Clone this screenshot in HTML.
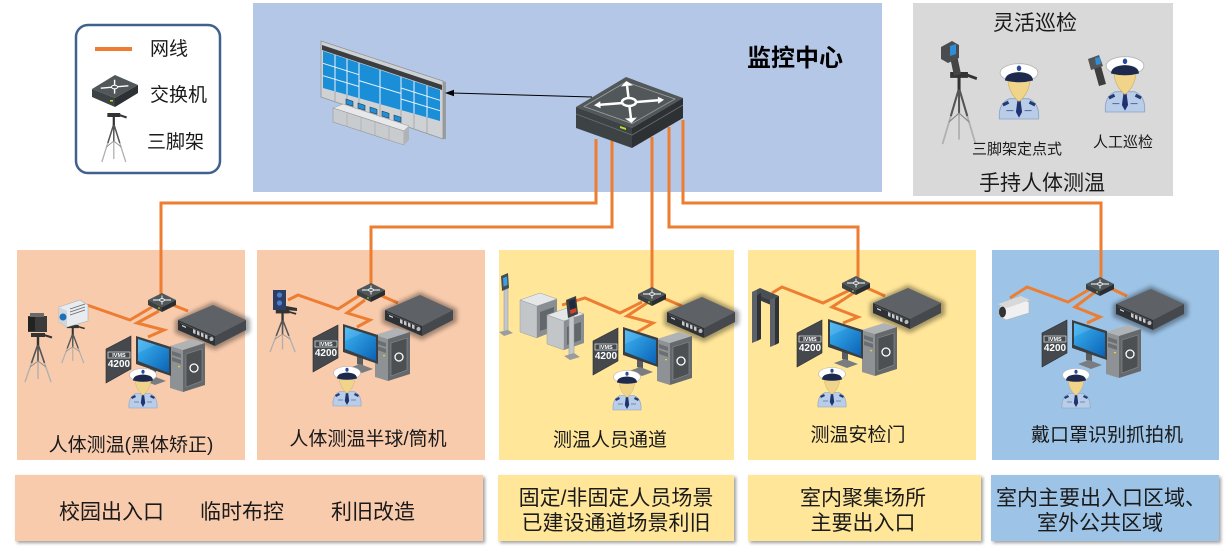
<!DOCTYPE html>
<html><head><meta charset="utf-8">
<style>
html,body{margin:0;padding:0;background:#fff;}
svg{display:block;}
text{font-family:"Liberation Sans","Noto Sans CJK SC",sans-serif;fill:#1a1a1a;}
</style></head><body>
<svg width="1228" height="550" viewBox="0 0 1228 550" xmlns="http://www.w3.org/2000/svg" xmlns:xlink="http://www.w3.org/1999/xlink">
<defs>
<linearGradient id="scr" x1="0" y1="0" x2="1" y2="1">
<stop offset="0" stop-color="#3db6f5"/><stop offset="1" stop-color="#0a62b5"/>
</linearGradient>
<filter id="blur2" x="-30%" y="-30%" width="160%" height="160%"><feGaussianBlur stdDeviation="2"/></filter>
<filter id="ds" x="-5%" y="-10%" width="110%" height="130%"><feDropShadow dx="2" dy="2" stdDeviation="1.5" flood-color="#777" flood-opacity="0.7"/></filter>

<g id="sw">
<path d="M-14,0 L0,-7 L14,0 L0,7 Z" fill="#50575a"/>
<path d="M-14,0 L0,7 L0,12 L-14,5 Z" fill="#3b4043"/>
<path d="M0,7 L14,0 L14,5 L0,12 Z" fill="#2a2e30"/>
<path d="M-9,0 L9,0 M0,-4.5 L0,4.5" stroke="#fff" stroke-width="0.9"/>
<ellipse cx="0" cy="0" rx="2.4" ry="1.3" fill="#50575a" stroke="#fff" stroke-width="0.8"/>
<rect x="-4" y="7.5" width="2" height="1" fill="#b5e61d"/>
</g>

<g id="nvr">
<polygon points="-3,15 35,-3 72,14 72,27 37,45 -3,28" fill="#000" opacity="0.35" filter="url(#blur2)"/>
<polygon points="0,15 35,0 68,15 37,31" fill="#5e6266"/>
<polygon points="0,15 37,31 37,41 0,25" fill="#2e3135"/>
<polygon points="37,31 68,15 68,25 37,41" fill="#45494d"/>
<path d="M2,17.5 L35,32" stroke="#66696d" stroke-width="0.6"/>
<polygon points="15,24 17.5,25.1 17.5,29.1 15,28" fill="#c9c9c9"/>
<polygon points="19,25.7 21.5,26.8 21.5,30.8 19,29.7" fill="#c9c9c9"/>
<polygon points="23,27.4 25.5,28.5 25.5,32.5 23,31.4" fill="#c9c9c9"/>
<polygon points="27,29.2 29.5,30.3 29.5,34.3 27,33.2" fill="#c9c9c9"/>
<circle cx="33.5" cy="34" r="2" fill="#bbb"/>
<polygon points="4,20 8,21.7 8,23 4,21.3" fill="#ddd"/>
</g>

<g id="pc">
<polygon points="0,7 22,0 35,4 13,11" fill="#b0b3b6"/>
<polygon points="0,7 13,11 13,53 0,49" fill="#8f9295"/>
<polygon points="2,12 11,15 11,19 2,16" fill="#6c6f72"/>
<polygon points="2,18 11,21 11,25 2,22" fill="#6c6f72"/>
<rect x="8" y="27" width="2" height="1.2" fill="#e8d23a"/>
<polygon points="13,11 35,4 35,46 13,53" fill="#66696c"/>
<polygon points="16,15 32,10 32,42 16,48" fill="#4d5053" stroke="#8a8d90" stroke-width="0.6"/>
<circle cx="24" cy="29" r="4" fill="none" stroke="#fff" stroke-width="1.3"/>
</g>

<g id="mon">
<polygon points="14,31 20,33 20,42 14,40" fill="#5a5d60"/>
<polygon points="6,44 17,40 30,45 19,49" fill="#7a7d80"/>
<polygon points="0,0 35,11 35,40 0,28" fill="#3c3f42"/>
<polygon points="2,3 33,13 33,37 2,25" fill="url(#scr)"/>
<polygon points="2,3 20,8.8 2,17" fill="#fff" opacity="0.12"/>
</g>

<g id="ivms">
<polygon points="0,13 25,0 25,33 0,47" fill="#45494d" stroke="#2a2c2e" stroke-width="0.6"/>
<rect x="2" y="16" width="22" height="6" fill="none" stroke="#fff" stroke-width="0.6"/>
<text x="13" y="21" font-size="5.5" font-weight="bold" text-anchor="middle" style="fill:#fff">IVMS</text>
<text x="13" y="31" font-size="10" font-weight="bold" text-anchor="middle" style="fill:#fff">4200</text>
</g>

<g id="pol">
<path d="M1,40 Q0,29 8,25.5 L22,25.5 Q30,29 29,40 Z" fill="#b9cce8" stroke="#8aa2c6" stroke-width="0.6"/>
<path d="M3,29 L7,27 L8,29 L4,31Z M27,29 L23,27 L22,29 L26,31Z" fill="#233b73"/>
<path d="M6,34 L11,34 M19,34 L24,34" stroke="#5a74a2" stroke-width="0.8"/>
<path d="M14,26 L16,26 L17.2,35 L15,39 L12.8,35 Z" fill="#1f3370"/>
<path d="M7,12 Q8,22 15,27.5 Q22,22 23,12 Z" fill="#f0d48a" stroke="#c9ac60" stroke-width="0.4"/>
<ellipse cx="15" cy="7" rx="13.5" ry="6.5" fill="#fff" stroke="#b5b5b5" stroke-width="0.6"/>
<path d="M5,12.5 Q5,7 15,6.5 Q25,7 25,12.5 Q15,15 5,12.5 Z" fill="#1e2a4d"/>
<ellipse cx="15" cy="3.8" rx="1.6" ry="2" fill="#2a4a9a"/>
</g>

<g id="tri" fill="none">
<path d="M15,11 L2,49 M15,11 L15,46 M15,11 L28,49" stroke="#b0b0b0" stroke-width="1.4"/>
<path d="M15,11 L8.5,30 M15,11 L15,28 M15,11 L21.5,30" stroke="#555" stroke-width="1.6"/>
<path d="M7,34 L15,28 L23,34" stroke="#888" stroke-width="0.8"/>
<path d="M15,2 L15,12" stroke="#333" stroke-width="2.4"/>
<rect x="8" y="0" width="14" height="4" fill="#333"/>
<path d="M21,2 L29,4.5" stroke="#333" stroke-width="2"/>
</g>
</defs>

<!-- backgrounds -->
<rect x="253" y="3" width="629" height="189" fill="#b4c7e7"/>
<rect x="913" y="3" width="260" height="193" fill="#d9d9d9"/>
<rect x="17" y="250" width="228" height="210" fill="#f8cbad"/>
<rect x="257" y="250" width="228" height="210" fill="#f8cbad"/>
<rect x="499" y="250" width="235" height="210" fill="#ffe699"/>
<rect x="748" y="250" width="228" height="210" fill="#ffe699"/>
<rect x="992" y="250" width="227" height="210" fill="#9dc3e6"/>

<!-- legend -->
<rect x="76" y="25" width="144" height="148" rx="12" fill="#fff" stroke="#41608e" stroke-width="2.5"/>
<rect x="95" y="47" width="37" height="4" fill="#ed7d31"/>
<text x="150" y="55" font-size="19">网线</text>
<polygon points="92,89 115,75 138,85 115,98" fill="#52585a"/>
<polygon points="92,89 115,98 115,107 92,97" fill="#3d4244"/>
<polygon points="115,98 138,85 138,93 115,107" fill="#2d3133"/>
<path d="M100.8,88.2 L128.4,85.8 M114.6,79.8 L114.6,93.6" stroke="#fff" stroke-width="1.4"/>
<ellipse cx="114.5" cy="87" rx="3" ry="1.8" fill="#52585a" stroke="#fff" stroke-width="1"/>
<rect x="110" y="100" width="3" height="1.5" fill="#b5e61d"/>
<text x="150" y="101" font-size="19">交换机</text>
<use href="#tri" transform="translate(100,113) scale(0.92,1)"/>
<text x="147" y="148" font-size="19">三脚架</text>

<!-- main orange lines -->
<g fill="none" stroke="#ed7d31" stroke-width="3">
<polyline points="596,139 596,203 161,203 161,296"/>
<polyline points="612,137 612,227 371,227 371,289"/>
<polyline points="652,137 652,293"/>
<polyline points="669,127 669,227 858,227 858,282"/>
<polyline points="683,120 683,203 1101,203 1101,283"/>
</g>

<!-- big switch -->
<polygon points="576,107 626,77 683,98 632,128" fill="#52585a"/>
<polygon points="576,107 632,128 632,148 576,128" fill="#3d4244"/>
<polygon points="632,128 683,98 683,118 632,148" fill="#2d3133"/>
<path d="M576,114 L632,135 L683,105" stroke="#6b7072" stroke-width="0.8" fill="none"/>
<polygon points="620,126 626,128 626,130 620,128" fill="#b5e61d"/>
<polygon points="584,106.5 626,82 675,99 632,123.5" fill="none" stroke="#9aa0a2" stroke-width="0.8"/>
<path d="M600,104.8 L658,100.3 M627.1,86 L630.9,118" stroke="#fff" stroke-width="2.5"/>
<ellipse cx="629" cy="102" rx="7" ry="4" fill="#52585a" stroke="#fff" stroke-width="2.5"/>
<polygon points="594,105.3 600.2,101.3 600.6,108.3" fill="#fff"/>
<polygon points="664,99.7 657.8,96.8 658.2,103.8" fill="#fff"/>
<polygon points="626.5,81 621,86.5 633,85.4" fill="#fff"/>
<polygon points="631.5,123 624.9,118.5 636.9,117.5" fill="#fff"/>

<!-- video wall -->
<polygon points="443,81 446,82 446,139 443,139" fill="#9a9da0"/>
<polygon points="321,41 443,81 443,139 321,97" fill="#cfd2d5" stroke="#8f9396" stroke-width="0.8"/>
<polygon points="322,45 442,85 442,90 322,50" fill="#3b3d40"/>
<polygon points="323,51 440,90 440,121 323,88" fill="#1b8ed8"/>
<g stroke="#e8f2fa" stroke-width="1">
<line x1="335" y1="55" x2="335" y2="91.4"/>
<line x1="347" y1="59" x2="347" y2="94.8"/>
<line x1="359" y1="63" x2="359" y2="98.2"/>
<line x1="380" y1="70" x2="380" y2="104.1"/>
<line x1="401" y1="77" x2="401" y2="110"/>
<line x1="414" y1="81.3" x2="414" y2="113.7"/>
<line x1="427" y1="85.7" x2="427" y2="117.3"/>
<line x1="323" y1="63.3" x2="359" y2="74.7"/>
<line x1="323" y1="75.7" x2="359" y2="86.5"/>
<line x1="359" y1="80.6" x2="401" y2="93.5"/>
<line x1="401" y1="88" x2="440" y2="100.3"/>
<line x1="401" y1="99" x2="440" y2="110.7"/>
</g>
<g stroke="#a0a3a6" stroke-width="0.8">
<line x1="335" y1="91.4" x2="335" y2="101.8"/>
<line x1="347" y1="94.8" x2="347" y2="105.9"/>
<line x1="359" y1="98.2" x2="359" y2="110.1"/>
<line x1="380" y1="104.1" x2="380" y2="117.3"/>
<line x1="401" y1="110" x2="401" y2="124.5"/>
<line x1="414" y1="113.7" x2="414" y2="129"/>
<line x1="427" y1="117.3" x2="427" y2="133.5"/>
</g>
<polygon points="333,108 343,104 409,126 404,131" fill="#e6e8ea" stroke="#a0a3a6" stroke-width="0.6"/>
<polygon points="333,108 404,131 404,145 333,122" fill="#c9ccce" stroke="#999" stroke-width="0.6"/>
<polygon points="404,131 409,126 409,140 404,145" fill="#b0b3b6"/>
<g stroke="#a3a6a9" stroke-width="0.6">
<line x1="347" y1="112.5" x2="347" y2="126.5"/><line x1="361" y1="117" x2="361" y2="131"/>
<line x1="375" y1="121.6" x2="375" y2="135.6"/><line x1="389" y1="126" x2="389" y2="140"/>
</g>
<g fill="#1e8fd8" stroke="#2a3a4a" stroke-width="0.6">
<polygon points="346,99 353,101.3 353,106.3 346,104"/>
<polygon points="358,103 365,105.3 365,110.3 358,108"/>
<polygon points="370,107 377,109.3 377,114.3 370,112"/>
<polygon points="382,111 389,113.3 389,118.3 382,116"/>
<polygon points="394,115 401,117.3 401,122.3 394,120"/>
</g>
<line x1="592" y1="97" x2="452" y2="93" stroke="#000" stroke-width="1"/>
<polygon points="445,93 454,89.7 454,96.3" fill="#000"/>
<text x="747" y="66" font-size="24" font-weight="bold" style="fill:#000">监控中心</text>

<!-- right top panel -->
<text x="1035" y="30" font-size="21" text-anchor="middle">灵活巡检</text>
<use href="#tri" transform="translate(940,72) scale(1.27,1.47)"/>
<polygon points="950,57 957,55 961,74 954,76" fill="#444"/>
<polygon points="941,47 952,41 959,45 959,58 948,63 941,59" fill="#4a4d50"/>
<polygon points="950,46 956,44 956,54 950,56" fill="#2e8fd6"/>
<use href="#pol" transform="translate(998,63) scale(1.4)"/>
<use href="#pol" transform="translate(1104,56) scale(1.4)"/>
<polygon points="1094,68 1101,66 1106,84 1099,86" fill="#3d3d3d"/>
<polygon points="1088,59 1099,55 1103,66 1091,70" fill="#555"/>
<polygon points="1095,58 1100,57 1101,64 1096,65" fill="#2e8fd6"/>
<text x="1017" y="154" font-size="15" text-anchor="middle">三脚架定点式</text>
<text x="1123" y="147" font-size="15" text-anchor="middle">人工巡检</text>
<text x="1042" y="190" font-size="21" text-anchor="middle">手持人体测温</text>

<!-- panel internal lines -->
<g fill="none" stroke="#ed7d31" stroke-width="3" stroke-linejoin="miter">
<polyline points="87,305 130,320 152,307"/>
<polyline points="159,311 137,323 164,330 148,337"/>
<polyline points="173,305 188,311"/>
<polyline points="288,300 298,295 338,309 360,295"/>
<polyline points="365,300 347,313 370,320 357,327"/>
<polyline points="382,296 398,303"/>
<polyline points="562,305 585,298 620,313 642,302"/>
<polyline points="647,303 627,316 653,323 637,332"/>
<polyline points="663,298 682,306"/>
<polyline points="772,293 782,287 823,303 850,290"/>
<polyline points="855,292 832,307 858,317 843,323"/>
<polyline points="867,288 885,296"/>
<polyline points="1010,298 1027,287 1068,302 1090,289"/>
<polyline points="1095,292 1075,307 1100,317 1087,323"/>
<polyline points="1110,288 1127,296"/>
</g>

<!-- panel 1 devices -->
<use href="#tri" transform="translate(23,333)"/>
<rect x="28" y="316" width="19" height="16" fill="#3b3b3b"/>
<rect x="28" y="317" width="7" height="14" fill="#222"/>
<rect x="30" y="313" width="14" height="4" fill="#6a6a6a"/>
<use href="#tri" transform="translate(60,325) scale(0.85,0.78)"/>
<polygon points="59,307 80,300 88,305 88,321 67,327 59,322" fill="#e8ecef" stroke="#a9b0b6" stroke-width="0.6"/>
<polygon points="59,307 67,311 67,327 59,322" fill="#cfd6dc"/>
<circle cx="63" cy="317" r="3.5" fill="#1d6fb8"/>
<path d="M70,309 L85,304 M70,312 L85,307 M70,315 L85,310" stroke="#666" stroke-width="0.8"/>
<use href="#sw" transform="translate(162,300)"/>
<use href="#nvr" transform="translate(178,305)"/>
<use href="#pc" transform="translate(170,339)"/>
<use href="#mon" transform="translate(136,336)"/>
<use href="#ivms" transform="translate(106,336)"/>
<use href="#pol" transform="translate(128,368)"/>
<text x="131" y="451" font-size="19" text-anchor="middle">人体测温(黑体矫正)</text>

<!-- panel 2 -->
<use href="#tri" transform="translate(268,310) scale(0.97,0.86)"/>
<rect x="273" y="290" width="13" height="20" fill="#2c3e66"/>
<circle cx="279.5" cy="295" r="2.6" fill="#4b7fc8"/>
<circle cx="279.5" cy="303" r="2.6" fill="#4b7fc8"/>
<polygon points="286,306 297,308 297,311 286,310" fill="#333"/>
<use href="#sw" transform="translate(371,290)"/>
<use href="#nvr" transform="translate(385,295)"/>
<use href="#pc" transform="translate(375,328)"/>
<use href="#mon" transform="translate(343,324)"/>
<use href="#ivms" transform="translate(313,325)"/>
<use href="#pol" transform="translate(332,366)"/>
<text x="368" y="445" font-size="19" text-anchor="middle">人体测温半球/筒机</text>

<!-- panel 3 -->
<polygon points="504,285 508,284 508,332 504,333" fill="#c5c8cb" stroke="#8e9194" stroke-width="0.5"/>
<polygon points="499,332 508,330 513,333 504,336" fill="#9a9da0"/>
<polygon points="501,276 508,273 509,288 502,291" fill="#4a4d50"/>
<polygon points="503,278 507,276.5 507.5,285 503.5,286.5" fill="#3aa0e0"/>
<polygon points="520,300 540,293 557,299 537,306" fill="#e4e6e8" stroke="#9a9da0" stroke-width="0.5"/>
<polygon points="520,300 537,306 537,338 520,332" fill="#c3c6c9" stroke="#9a9da0" stroke-width="0.5"/>
<polygon points="537,306 557,299 557,330 537,338" fill="#8a8e92"/>
<polygon points="540,312 554,307 554,326 540,331" fill="#62676b"/>
<polygon points="547,315 567,308 584,314 564,321" fill="#e4e6e8" stroke="#9a9da0" stroke-width="0.5"/>
<polygon points="547,315 564,321 564,350 547,344" fill="#c3c6c9" stroke="#9a9da0" stroke-width="0.5"/>
<polygon points="564,321 584,314 584,343 564,350" fill="#8a8e92"/>
<polygon points="567,327 581,322 581,340 567,345" fill="#62676b"/>
<polygon points="569,312 574,311 574,356 569,357" fill="#c5c8cb" stroke="#8e9194" stroke-width="0.5"/>
<polygon points="564,356 574,353 580,357 570,360" fill="#9a9da0"/>
<polygon points="566,300 576,296 578,314 568,318" fill="#3d4043"/>
<polygon points="569,301 575,299 576,308 570,310" fill="#1f2a3a"/>
<polygon points="570,310 576,308 576.5,312 570.5,314" fill="#d0402a"/>
<use href="#sw" transform="translate(652,294)"/>
<use href="#nvr" transform="translate(667,297)"/>
<use href="#pc" transform="translate(657,332)"/>
<use href="#mon" transform="translate(623,327)"/>
<use href="#ivms" transform="translate(593,328)"/>
<use href="#pol" transform="translate(612,370)"/>
<text x="610" y="446" font-size="19" text-anchor="middle">测温人员通道</text>

<!-- panel 4 -->
<polygon points="752,292 760,288 779,296 771,300" fill="#4a4f55"/>
<polygon points="752,292 771,300 771,305 752,297" fill="#3a3e44"/>
<polygon points="752,292 757,290 757,341 752,343" fill="#5c6168"/>
<polygon points="757,295 761,293 761,339 757,341" fill="#2f3338"/>
<polygon points="770,300 775,298 775,345 770,347" fill="#5c6168"/>
<polygon points="775,298 779,296 779,343 775,345" fill="#2f3338"/>
<use href="#sw" transform="translate(856,283)"/>
<use href="#nvr" transform="translate(873,288)"/>
<use href="#pc" transform="translate(862,323)"/>
<use href="#mon" transform="translate(828,319)"/>
<use href="#ivms" transform="translate(797,320)"/>
<use href="#pol" transform="translate(817,367)"/>
<text x="858" y="441" font-size="19" text-anchor="middle">测温安检门</text>

<!-- panel 5 -->
<polygon points="1000,306 1022,299 1029,302 1029,313 1006,320 999,316" fill="#f0f0f0" stroke="#b5b5b5" stroke-width="0.6"/>
<polygon points="998,304 1021,296 1030,300 1007,308" fill="#d8d8d8"/>
<ellipse cx="1002.5" cy="312" rx="3.5" ry="5.5" fill="#333"/>
<use href="#sw" transform="translate(1100,284)"/>
<use href="#nvr" transform="translate(1116,289)"/>
<use href="#pc" transform="translate(1106,325)"/>
<use href="#mon" transform="translate(1072,320)"/>
<use href="#ivms" transform="translate(1042,320)"/>
<use href="#pol" transform="translate(1061,368)"/>
<text x="1107" y="441" font-size="19" text-anchor="middle">戴口罩识别抓拍机</text>

<!-- bottom boxes -->
<rect x="15" y="475" width="468" height="66" fill="#f8cbad" filter="url(#ds)"/>
<rect x="498" y="475" width="236" height="66" fill="#ffe699" filter="url(#ds)"/>
<rect x="748" y="475" width="233" height="66" fill="#ffe699" filter="url(#ds)"/>
<rect x="991" y="475" width="228" height="66" fill="#9dc3e6" filter="url(#ds)"/>
<text x="59" y="519" font-size="21">校园出入口</text>
<text x="200" y="519" font-size="21">临时布控</text>
<text x="331" y="519" font-size="21">利旧改造</text>
<text x="616" y="505" font-size="21" text-anchor="middle">固定/非固定人员场景</text>
<text x="616" y="530" font-size="21" text-anchor="middle">已建设通道场景利旧</text>
<text x="863" y="505" font-size="21" text-anchor="middle">室内聚集场所</text>
<text x="863" y="530" font-size="21" text-anchor="middle">主要出入口</text>
<text x="996" y="505" font-size="21">室内主要出入口区域、</text>
<text x="1100" y="530" font-size="21" text-anchor="middle">室外公共区域</text>
</svg>
</body></html>
